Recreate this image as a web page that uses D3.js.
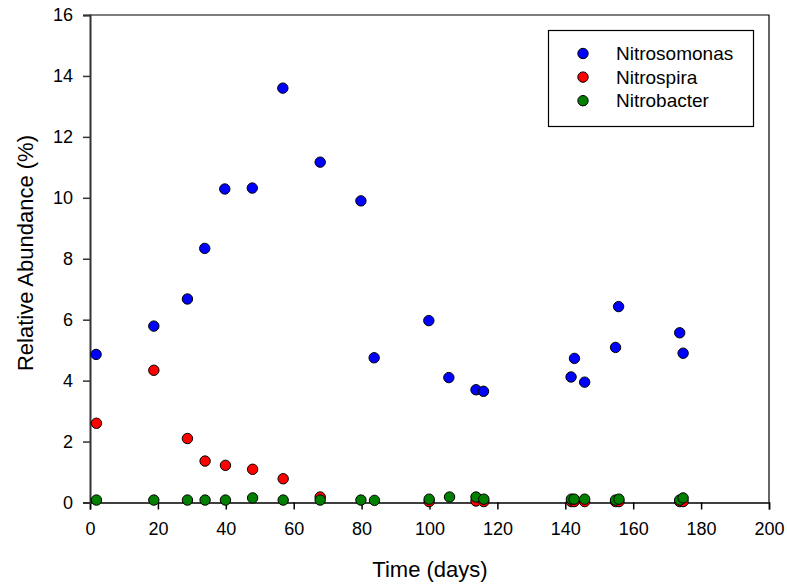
<!DOCTYPE html>
<html>
<head>
<meta charset="utf-8">
<script src="https://cdn.jsdelivr.net/npm/d3@7"></script>
<style>
  html, body { margin: 0; padding: 0; background: #fff; }
  svg { display: block; font-family: Arial, "Liberation Sans", sans-serif; }
</style>
</head>
<body>
<svg id="chart" width="787" height="586"></svg>
<script>
// Relative abundance of nitrifying genera over time
const nitrosomonasDays = [1.8, 18.8, 28.7, 33.8, 39.7, 47.8, 56.8, 67.8, 79.8, 83.7, 99.8, 105.7, 113.7, 115.9, 141.7, 142.7, 145.7, 154.8, 155.7, 173.7, 174.7];
const nitrosomonasValues = [4.86, 5.79, 6.68, 8.34, 10.29, 10.32, 13.6, 11.17, 9.9, 4.75, 5.97, 4.10, 3.70, 3.65, 4.12, 4.73, 3.95, 5.09, 6.43, 5.57, 4.90];

const nitrospiraDays = [1.9, 18.8, 28.7, 33.9, 39.9, 47.9, 56.9, 67.8, 99.9, 113.7, 116.0, 141.8, 142.6, 145.7, 154.8, 155.8, 173.7, 174.7];
const nitrospiraValues = [2.6, 4.34, 2.1, 1.36, 1.22, 1.09, 0.78, 0.18, 0.03, 0.05, 0.03, 0.03, 0.03, 0.03, 0.03, 0.03, 0.03, 0.03];

const nitrobacterDays = [1.9, 18.8, 28.7, 33.9, 39.9, 47.9, 56.9, 67.8, 79.8, 83.8, 99.9, 105.9, 113.7, 116.0, 141.8, 142.6, 145.7, 154.8, 155.8, 173.7, 174.7];
const nitrobacterValues = [0.08, 0.08, 0.08, 0.08, 0.08, 0.15, 0.08, 0.08, 0.08, 0.07, 0.11, 0.18, 0.18, 0.11, 0.11, 0.11, 0.11, 0.08, 0.11, 0.08, 0.15];

const seriesNames = ["Nitrosomonas", "Nitrospira", "Nitrobacter"];
const seriesColors = ["#0000ff", "#ff0000", "#007f00"];

const xTicks = [0, 20, 40, 60, 80, 100, 120, 140, 160, 180, 200];
const yTicks = [0, 2, 4, 6, 8, 10, 12, 14, 16];

const series = [
  { name: seriesNames[0], color: seriesColors[0], days: nitrosomonasDays, values: nitrosomonasValues },
  { name: seriesNames[1], color: seriesColors[1], days: nitrospiraDays, values: nitrospiraValues },
  { name: seriesNames[2], color: seriesColors[2], days: nitrobacterDays, values: nitrobacterValues }
];

const svg = d3.select("#chart");
const plot = { left: 90, right: 769, top: 15, bottom: 502.5 };

const x = d3.scaleLinear().domain([0, 200]).range([plot.left, plot.right]);
const y = d3.scaleLinear().domain([0, 16]).range([plot.bottom, plot.top]);

// Frame: top and right edges
svg.append("path")
  .attr("d", `M${plot.left},${plot.top}H${plot.right}V${plot.bottom}`)
  .attr("fill", "none").attr("stroke", "#000").attr("stroke-width", 1.2);

// Bottom axis
const xAxis = svg.append("g")
  .attr("transform", `translate(0,${plot.bottom})`)
  .call(d3.axisBottom(x).tickValues(xTicks).tickSize(7).tickPadding(13).tickFormat(d3.format("d")));
xAxis.select(".domain").attr("stroke", "#000").attr("stroke-width", 1.5);
xAxis.selectAll(".tick line").attr("stroke", "#000").attr("stroke-width", 1.5);
xAxis.selectAll(".tick text").attr("font-size", 18).attr("fill", "#000")
  .attr("font-family", "Arial, 'Liberation Sans', sans-serif");

// Left axis
const yAxis = svg.append("g")
  .attr("transform", `translate(${plot.left},0)`)
  .call(d3.axisLeft(y).tickValues(yTicks).tickSize(7).tickPadding(10).tickFormat(d3.format("d")));
yAxis.select(".domain").attr("stroke", "#333").attr("stroke-width", 2);
yAxis.selectAll(".tick line").attr("stroke", "#333").attr("stroke-width", 1.5);
yAxis.selectAll(".tick text").attr("font-size", 18).attr("fill", "#000")
  .attr("font-family", "Arial, 'Liberation Sans', sans-serif");

// Axis titles
svg.append("text")
  .attr("x", 430).attr("y", 577)
  .attr("text-anchor", "middle").attr("font-size", 22).attr("fill", "#000")
  .text("Time (days)");

svg.append("text")
  .attr("transform", `translate(33,253) rotate(-90)`)
  .attr("text-anchor", "middle").attr("font-size", 22).attr("fill", "#000")
  .text("Relative Abundance (%)");

// Points: one group per series, drawn in order so Nitrobacter sits on top
series.forEach(s => {
  svg.append("g")
    .selectAll("circle")
    .data(s.days.map((d, i) => ({ day: d, value: s.values[i] })))
    .join("circle")
    .attr("cx", d => x(d.day))
    .attr("cy", d => y(d.value))
    .attr("r", 5.2)
    .attr("fill", s.color)
    .attr("stroke", "#000")
    .attr("stroke-width", 1);
});

// Legend
const legend = svg.append("g");
legend.append("rect")
  .attr("x", 548.5).attr("y", 30.5).attr("width", 205).attr("height", 96)
  .attr("fill", "#fff").attr("stroke", "#000").attr("stroke-width", 1.2);
series.forEach((s, i) => {
  const cy = 53.5 + i * 23.6;
  legend.append("circle")
    .attr("cx", 583).attr("cy", cy).attr("r", 5.2)
    .attr("fill", s.color).attr("stroke", "#000").attr("stroke-width", 1);
  legend.append("text")
    .attr("x", 616).attr("y", cy).attr("dy", "0.35em")
    .attr("font-size", 19).attr("fill", "#000")
    .text(s.name);
});
</script>
</body>
</html>
